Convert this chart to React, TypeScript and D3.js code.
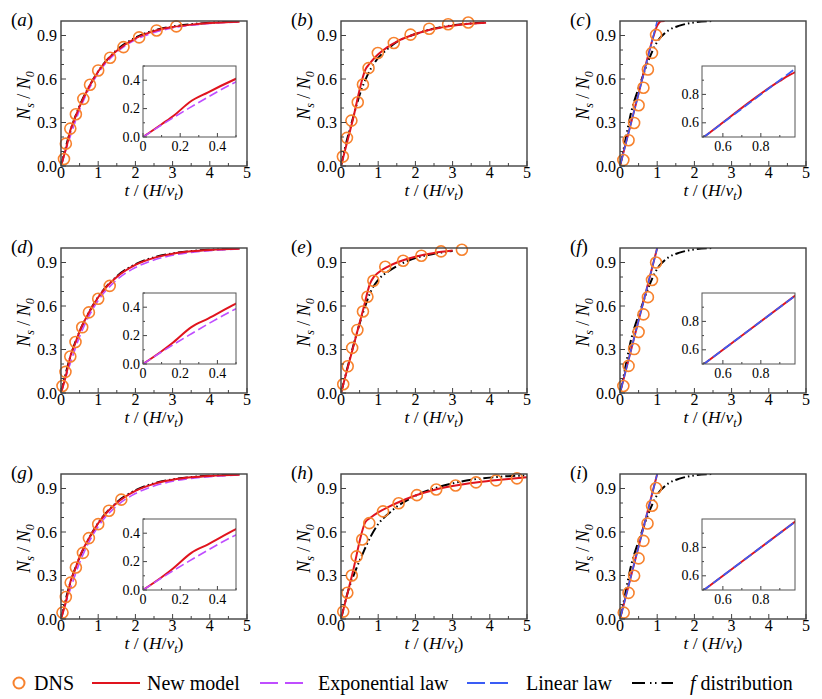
import React from 'react';
import * as d3 from 'd3';

type Pt = [number, number];

// ---- panel (a) ----
const dnsA: Pt[] = [[0.08, 0.048], [0.13, 0.154], [0.25, 0.258], [0.4, 0.357], [0.6, 0.463], [0.78, 0.56], [1.0, 0.659], [1.32, 0.747], [1.68, 0.82], [2.1, 0.887], [2.57, 0.935], [3.1, 0.963]];
const newA: Pt[] = [[0, 0], [0.1, 0.09], [0.17, 0.155], [0.25, 0.245], [0.35, 0.315], [0.5, 0.41], [0.75, 0.545], [1, 0.652], [1.25, 0.735], [1.5, 0.795], [2, 0.88], [2.5, 0.93], [3, 0.958], [3.5, 0.975], [4, 0.986], [4.8, 0.995]];
const expA: Pt[] = [[0, 0], [0.1, 0.085], [0.25, 0.205], [0.5, 0.388], [0.75, 0.53], [1, 0.64], [1.5, 0.785], [2, 0.87], [2.5, 0.92], [3, 0.952], [3.5, 0.971], [4, 0.983], [4.8, 0.993]];
const fdA: Pt[] = [[0, 0], [0.25, 0.24], [0.5, 0.415], [0.75, 0.545], [1, 0.652], [1.5, 0.8], [2, 0.885], [2.5, 0.935], [3, 0.962], [3.5, 0.978], [4, 0.988], [4.8, 0.996]];

// ---- panel (b) ----
const dnsB: Pt[] = [[0.05, 0.065], [0.16, 0.194], [0.28, 0.313], [0.45, 0.44], [0.59, 0.562], [0.74, 0.675], [0.99, 0.779], [1.42, 0.848], [1.87, 0.906], [2.37, 0.947], [2.88, 0.978], [3.42, 0.99]];
const newB: Pt[] = [[0, 0], [0.3, 0.3], [0.67, 0.672], [0.75, 0.7], [0.9, 0.745], [1, 0.77], [1.25, 0.82], [1.5, 0.858], [2, 0.91], [2.5, 0.946], [3, 0.968], [3.5, 0.982], [3.9, 0.988]];
const fdB: Pt[] = [[0, 0], [0.15, 0.17], [0.3, 0.31], [0.5, 0.49], [0.7, 0.62], [0.8, 0.67], [1.0, 0.745], [1.2, 0.795], [1.5, 0.855], [2, 0.91], [2.5, 0.948], [3, 0.97], [3.9, 0.99]];

// ---- panel (c) ----
const dnsC: Pt[] = [[0.09, 0.041], [0.23, 0.178], [0.38, 0.297], [0.5, 0.419], [0.63, 0.54], [0.75, 0.666], [0.86, 0.78], [0.97, 0.904]];
const newC: Pt[] = [[0, 0], [0.5, 0.5], [0.9, 0.895], [0.95, 0.935], [1, 0.968], [1.05, 0.988], [1.1, 0.998], [1.2, 1.0]];
const linC: Pt[] = [[0, 0], [0.5, 0.5], [1.0, 1.0]];
const fdC: Pt[] = [[0, 0], [0.1, 0.12], [0.2, 0.25], [0.3, 0.37], [0.45, 0.5], [0.6, 0.61], [0.8, 0.75], [0.95, 0.835], [1.1, 0.89], [1.3, 0.935], [1.6, 0.968], [2, 0.99], [2.5, 1.0]];

// ---- panel (d) ----
const dnsD: Pt[] = [[0.04, 0.048], [0.12, 0.146], [0.25, 0.252], [0.39, 0.352], [0.57, 0.453], [0.75, 0.556], [1.0, 0.65], [1.31, 0.739]];
const newD: Pt[] = [[0, 0], [0.1, 0.09], [0.16, 0.15], [0.26, 0.26], [0.35, 0.32], [0.5, 0.425], [0.75, 0.555], [1, 0.66], [1.25, 0.74], [1.5, 0.8], [2, 0.883], [2.5, 0.932], [3, 0.96], [3.5, 0.977], [4, 0.987], [4.8, 0.995]];
const expD: Pt[] = [[0, 0], [0.1, 0.085], [0.25, 0.205], [0.5, 0.389], [0.75, 0.53], [1, 0.638], [1.5, 0.78], [2, 0.865], [2.5, 0.917], [3, 0.95], [3.5, 0.97], [4, 0.982], [4.8, 0.993]];
const fdD: Pt[] = [[0, 0], [0.25, 0.25], [0.5, 0.425], [0.75, 0.555], [1, 0.662], [1.5, 0.805], [2, 0.888], [2.5, 0.936], [3, 0.963], [3.5, 0.979], [4, 0.988], [4.8, 0.996]];

// ---- panel (e) ----
const dnsE: Pt[] = [[0.06, 0.06], [0.18, 0.184], [0.3, 0.311], [0.44, 0.435], [0.59, 0.562], [0.71, 0.664], [0.87, 0.774], [1.19, 0.871], [1.67, 0.912], [2.16, 0.947], [2.69, 0.977], [3.25, 0.988]];
const newE: Pt[] = [[0, 0], [0.3, 0.29], [0.6, 0.58], [0.78, 0.755], [0.88, 0.8], [1, 0.83], [1.25, 0.87], [1.5, 0.9], [2, 0.94], [2.5, 0.966], [3, 0.982]];
const fdE: Pt[] = [[0, 0], [0.2, 0.2], [0.4, 0.39], [0.6, 0.56], [0.8, 0.7], [1, 0.78], [1.25, 0.835], [1.5, 0.875], [2, 0.93], [2.5, 0.96], [3, 0.98]];

// ---- panel (f) ----
const dnsF: Pt[] = [[0.09, 0.048], [0.23, 0.187], [0.38, 0.303], [0.5, 0.421], [0.63, 0.542], [0.75, 0.661], [0.86, 0.779], [0.97, 0.9]];
const newF: Pt[] = [[0, 0], [0.5, 0.5], [1.0, 1.0]];
const linF: Pt[] = [[0, 0], [0.5, 0.5], [1.0, 1.0]];
const fdF: Pt[] = [[0, 0], [0.1, 0.12], [0.2, 0.25], [0.3, 0.37], [0.45, 0.5], [0.6, 0.61], [0.8, 0.75], [0.95, 0.835], [1.1, 0.89], [1.3, 0.935], [1.6, 0.968], [2, 0.99], [2.5, 1.0]];

// ---- panel (g) ----
const dnsG: Pt[] = [[0.04, 0.044], [0.13, 0.152], [0.26, 0.251], [0.4, 0.355], [0.59, 0.456], [0.75, 0.558], [1.0, 0.654], [1.29, 0.747], [1.62, 0.823]];
const newG: Pt[] = [[0, 0], [0.1, 0.09], [0.16, 0.15], [0.26, 0.262], [0.35, 0.322], [0.5, 0.428], [0.75, 0.556], [1, 0.66], [1.25, 0.74], [1.5, 0.8], [2, 0.883], [2.5, 0.932], [3, 0.96], [3.5, 0.977], [4, 0.987], [4.8, 0.995]];
const expG: Pt[] = [[0, 0], [0.1, 0.085], [0.25, 0.205], [0.5, 0.388], [0.75, 0.53], [1, 0.638], [1.5, 0.78], [2, 0.865], [2.5, 0.917], [3, 0.95], [3.5, 0.97], [4, 0.982], [4.8, 0.993]];
const fdG: Pt[] = [[0, 0], [0.25, 0.25], [0.5, 0.425], [0.75, 0.555], [1, 0.662], [1.5, 0.805], [2, 0.888], [2.5, 0.936], [3, 0.963], [3.5, 0.979], [4, 0.988], [4.8, 0.996]];

// ---- panel (h) ----
const dnsH: Pt[] = [[0.06, 0.051], [0.17, 0.181], [0.29, 0.3], [0.42, 0.432], [0.57, 0.548], [0.76, 0.661], [1.13, 0.742], [1.55, 0.798], [2.04, 0.854], [2.56, 0.893], [3.08, 0.921], [3.63, 0.942], [4.17, 0.956], [4.73, 0.97]];
const newH: Pt[] = [[0, 0], [0.3, 0.305], [0.66, 0.67], [0.8, 0.7], [1, 0.735], [1.25, 0.77], [1.5, 0.8], [2, 0.852], [2.5, 0.89], [3, 0.917], [3.5, 0.938], [4, 0.953], [4.5, 0.966], [5, 0.977]];
const fdH: Pt[] = [[0, 0], [0.2, 0.2], [0.4, 0.34], [0.6, 0.46], [0.8, 0.57], [1, 0.655], [1.25, 0.72], [1.5, 0.775], [1.75, 0.815], [2, 0.85], [2.5, 0.9], [3, 0.935], [3.5, 0.96], [4, 0.975], [4.5, 0.985], [5, 0.99]];

// ---- panel (i) ----
const dnsI: Pt[] = [[0.1, 0.044], [0.23, 0.18], [0.38, 0.298], [0.5, 0.418], [0.63, 0.539], [0.74, 0.659], [0.86, 0.781], [0.97, 0.903]];
const newI: Pt[] = [[0, 0], [0.5, 0.5], [1.0, 1.0]];
const linI: Pt[] = [[0, 0], [0.5, 0.5], [1.0, 1.0]];
const fdI: Pt[] = [[0, 0], [0.1, 0.12], [0.2, 0.25], [0.3, 0.37], [0.45, 0.5], [0.6, 0.61], [0.8, 0.75], [0.95, 0.835], [1.1, 0.89], [1.3, 0.935], [1.6, 0.968], [2, 0.99], [2.5, 1.0]];

// ticks
const xTicks = [0, 1, 2, 3, 4, 5];
const yTicks = [0, 0.3, 0.6, 0.9];
const earlyTicks = [0, 0.2, 0.4];
const lateTicks = [0.6, 0.8];

const legendNames = ['DNS', 'New model', 'Exponential law', 'Linear law', 'distribution'];

const C = {
  dns: '#F7822E',
  model: '#E0141E',
  exp: '#BF4DFF',
  lin: '#3A5CF5',
  fd: '#000000',
  frame: '#404040',
};
const FONT = "'Liberation Serif', 'DejaVu Serif', serif";

type PanelSpec = {
  id: string;
  dns: Pt[];
  model: Pt[];
  exp?: Pt[];
  lin?: Pt[];
  fd: Pt[];
  inset?: 'early' | 'late';
};

const panels: PanelSpec[] = [
  { id: 'a', dns: dnsA, model: newA, exp: expA, fd: fdA, inset: 'early' },
  { id: 'b', dns: dnsB, model: newB, fd: fdB },
  { id: 'c', dns: dnsC, model: newC, lin: linC, fd: fdC, inset: 'late' },
  { id: 'd', dns: dnsD, model: newD, exp: expD, fd: fdD, inset: 'early' },
  { id: 'e', dns: dnsE, model: newE, fd: fdE },
  { id: 'f', dns: dnsF, model: newF, lin: linF, fd: fdF, inset: 'late' },
  { id: 'g', dns: dnsG, model: newG, exp: expG, fd: fdG, inset: 'early' },
  { id: 'h', dns: dnsH, model: newH, fd: fdH },
  { id: 'i', dns: dnsI, model: newI, lin: linI, fd: fdI, inset: 'late' },
];

const colX = [61, 341, 620];
const rowY = [21, 248, 474];
const W = 186;
const H = 145;

const DASH = '9,4';
const FD_DASH = '10,3,1.5,3,1.5,3';

function makeLine(x: d3.ScaleLinear<number, number>, y: d3.ScaleLinear<number, number>) {
  return d3.line<Pt>().x(d => x(d[0])).y(d => y(d[1])).curve(d3.curveMonotoneX);
}

const Inset: React.FC<{ p: PanelSpec; x0: number; y0: number }> = ({ p, x0, y0 }) => {
  const iw = 93, ih = 71;
  const ix = x0 + 82, iy = y0 + 45;
  const early = p.inset === 'early';
  const dom: [number, number] = early ? [0, 0.5] : [0.49, 0.98];
  const domY: [number, number] = early ? [0, 0.5] : [0.5, 1.0];
  const x = d3.scaleLinear().domain(dom).range([ix, ix + iw]);
  const y = d3.scaleLinear().domain(domY).range([iy + ih, iy]);
  const line = makeLine(x, y);
  const major = early ? earlyTicks : lateTicks;
  const minorX = d3.range(0.1, 1.0, 0.1).filter(v => v >= dom[0] && v <= dom[1] && !major.some(m => Math.abs(m - v) < 1e-6));
  const minorY = d3.range(0.1, 1.0, 0.1).filter(v => v >= domY[0] && v <= domY[1] && !major.some(m => Math.abs(m - v) < 1e-6));
  const fmtX = early ? (v: number) => (v === 0 ? '0' : d3.format('.1f')(v)) : d3.format('.1f');
  const clip = `clip-in-${p.id}`;
  return (
    <g>
      <rect x={ix} y={iy} width={iw} height={ih} fill="#fff" />
      <clipPath id={clip}>
        <rect x={ix} y={iy} width={iw} height={ih} />
      </clipPath>
      <g clipPath={`url(#${clip})`} fill="none">
        <path d={line(p.model) || ''} stroke={C.model} strokeWidth={2} />
        {p.exp && <path d={line(p.exp) || ''} stroke={C.exp} strokeWidth={1.6} strokeDasharray={DASH} />}
        {p.lin && <path d={line(p.lin) || ''} stroke={C.lin} strokeWidth={1.8} strokeDasharray={DASH} />}
      </g>
      {major.map(v => (
        <g key={'ix' + v}>
          <line x1={x(v)} x2={x(v)} y1={iy + ih} y2={iy + ih - 4} stroke={C.frame} />
          <text x={x(v)} y={iy + ih + 14} textAnchor="middle" fontSize={14}>{fmtX(v)}</text>
        </g>
      ))}
      {minorX.map(v => (
        <line key={'imx' + v} x1={x(v)} x2={x(v)} y1={iy + ih} y2={iy + ih - 2} stroke={C.frame} />
      ))}
      {major.map(v => (
        <g key={'iy' + v}>
          <line x1={ix} x2={ix + 4} y1={y(v)} y2={y(v)} stroke={C.frame} />
          <text x={ix - 3} y={y(v) + 4.5} textAnchor="end" fontSize={14}>{d3.format('.1f')(v)}</text>
        </g>
      ))}
      {minorY.map(v => (
        <line key={'imy' + v} x1={ix} x2={ix + 2} y1={y(v)} y2={y(v)} stroke={C.frame} />
      ))}
      <rect x={ix} y={iy} width={iw} height={ih} fill="none" stroke="#555" strokeWidth={1} />
    </g>
  );
};

const Panel: React.FC<{ p: PanelSpec; x0: number; y0: number }> = ({ p, x0, y0 }) => {
  const x = d3.scaleLinear().domain([0, 5]).range([x0, x0 + W]);
  const y = d3.scaleLinear().domain([0, 1]).range([y0 + H, y0]);
  const line = makeLine(x, y);
  const minorX = d3.range(0.5, 5, 1);
  const minorY = d3.range(0.1, 1.0, 0.1).filter(v => !yTicks.some(m => Math.abs(m - v) < 1e-6));
  const clip = `clip-${p.id}`;
  return (
    <g>
      <clipPath id={clip}>
        <rect x={x0} y={y0} width={W} height={H} />
      </clipPath>
      <g clipPath={`url(#${clip})`} fill="none">
        <path d={line(p.fd) || ''} stroke={C.fd} strokeWidth={2} strokeDasharray={FD_DASH} />
        {p.exp && <path d={line(p.exp) || ''} stroke={C.exp} strokeWidth={1.6} strokeDasharray={DASH} />}
        <path d={line(p.model) || ''} stroke={C.model} strokeWidth={2} />
        {p.lin && <path d={line(p.lin) || ''} stroke={C.lin} strokeWidth={1.5} strokeDasharray="14,2" />}
      </g>
      {p.dns.map((d, i) => (
        <circle key={i} cx={x(d[0])} cy={y(d[1])} r={5.5} fill="none" stroke={C.dns} strokeWidth={1.6} />
      ))}
      {xTicks.map(v => (
        <g key={'x' + v}>
          <line x1={x(v)} x2={x(v)} y1={y0 + H} y2={y0 + H - 5} stroke={C.frame} />
          <text x={x(v)} y={y0 + H + 12} textAnchor="middle" fontSize={16}>{v}</text>
        </g>
      ))}
      {minorX.map(v => (
        <line key={'mx' + v} x1={x(v)} x2={x(v)} y1={y0 + H} y2={y0 + H - 3} stroke={C.frame} />
      ))}
      {yTicks.map(v => (
        <g key={'y' + v}>
          <line x1={x0} x2={x0 + 5} y1={y(v)} y2={y(v)} stroke={C.frame} />
          <text x={x0 - 4} y={y(v) + 5.5} textAnchor="end" fontSize={16}>{d3.format('.1f')(v)}</text>
        </g>
      ))}
      {minorY.map(v => (
        <line key={'my' + v} x1={x0} x2={x0 + 3} y1={y(v)} y2={y(v)} stroke={C.frame} />
      ))}
      <rect x={x0} y={y0} width={W} height={H} fill="none" stroke={C.frame} strokeWidth={1.4} />
      {p.inset && <Inset p={p} x0={x0} y0={y0} />}
      <text x={x0 - 50} y={y0 + 5} fontSize={19}>
        (<tspan fontStyle="italic">{p.id}</tspan>)
      </text>
      <text x={x0 + W / 2} y={y0 + H + 30} textAnchor="middle" fontSize={17.5} style={{ whiteSpace: 'pre' }}>
        <tspan fontStyle="italic">t</tspan>
        <tspan>{' / ('}</tspan>
        <tspan fontStyle="italic">H</tspan>
        <tspan>/</tspan>
        <tspan fontStyle="italic">v</tspan>
        <tspan fontStyle="italic" fontSize={12} dy={4}>t</tspan>
        <tspan dy={-4}>)</tspan>
      </text>
      <text
        transform={`translate(${x0 - 31},${y0 + H / 2 + 2}) rotate(-90)`}
        textAnchor="middle"
        fontSize={18}
        style={{ whiteSpace: 'pre' }}
      >
        <tspan fontStyle="italic">N</tspan>
        <tspan fontStyle="italic" fontSize={12} dy={4}>s</tspan>
        <tspan dy={-4}>{' / '}</tspan>
        <tspan fontStyle="italic">N</tspan>
        <tspan fontStyle="italic" fontSize={12} dy={4}>0</tspan>
      </text>
    </g>
  );
};

const Legend: React.FC = () => {
  const ly = 683;
  const tb = ly + 6.5;
  return (
    <g fontSize={20}>
      <circle cx={19} cy={ly} r={5.5} fill="none" stroke={C.dns} strokeWidth={2} />
      <text x={34} y={tb}>{legendNames[0]}</text>
      <line x1={92} x2={140} y1={ly} y2={ly} stroke={C.model} strokeWidth={2} />
      <text x={147} y={tb}>{legendNames[1]}</text>
      <line x1={260} x2={303} y1={ly} y2={ly} stroke={C.exp} strokeWidth={2} strokeDasharray="18,7" />
      <text x={318} y={tb}>{legendNames[2]}</text>
      <line x1={467} x2={508} y1={ly} y2={ly} stroke={C.lin} strokeWidth={2} strokeDasharray="18,5" />
      <text x={526} y={tb}>{legendNames[3]}</text>
      <line x1={632} x2={673} y1={ly} y2={ly} stroke={C.fd} strokeWidth={2} strokeDasharray="13,5,1.5,3.5,1.5,5" />
      <text x={690} y={tb} style={{ whiteSpace: 'pre' }}>
        <tspan fontStyle="italic">f</tspan>
        <tspan>{' ' + legendNames[4]}</tspan>
      </text>
    </g>
  );
};

export default function App() {
  return (
    <svg
      width={822}
      height={699}
      style={{ position: 'absolute', left: 0, top: 0, background: '#fff', fontFamily: FONT }}
    >
      <rect width={822} height={699} fill="#fff" />
      <g style={{ fontFamily: FONT }}>
        {panels.map((p, i) => (
          <Panel key={p.id} p={p} x0={colX[i % 3]} y0={rowY[Math.floor(i / 3)]} />
        ))}
        <Legend />
      </g>
    </svg>
  );
}
